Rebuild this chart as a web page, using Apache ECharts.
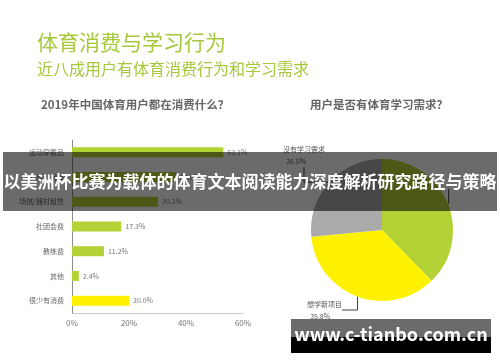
<!DOCTYPE html>
<html>
<head>
<meta charset="utf-8">
<script src="https://cdn.jsdelivr.net/npm/echarts@6/dist/echarts.min.js"></script>
<style>
html,body{margin:0;padding:0;background:#fff;}
#main{width:500px;height:362px;}
</style>
</head>
<body>
<div id="main"></div>
<script>
// 消费类别与占比
var categories = ['运动穿戴品', '运动用具', '场馆/器材租赁', '社团会费', '教练费', '其他', '很少有消费'];
var consumeValues = [53.1, 36.6, 30.2, 17.3, 11.2, 2.4, 20.0];
var xTicks = ['0%', '20%', '40%', '60%'];

// 学习需求
var needNames = ['想提高现有水平', '想学新项目', '没有学习需求'];
var needValues = [37.7, 35.8, 26.5];

var FONT = '"Noto Sans CJK SC", "Noto Sans", sans-serif';
var GREEN = '#b2d235';
var YELLOW = '#fff200';

// 饼图标签位置
var pieLabelPos = [
    {x: 452, y: 165, align: 'left'},
    {x: 307, y: 298, align: 'left'},
    {x: 283, y: 143, align: 'left'}
];

var chart = echarts.init(document.getElementById('main'));
var option = {
    backgroundColor: '#fff',
    textStyle: {fontFamily: FONT},
    grid: {left: 72, top: 140, width: 171, height: 173},
    xAxis: {
        type: 'value',
        min: 0,
        max: 60,
        interval: 20,
        axisLine: {show: true, lineStyle: {color: '#c8c8c8'}},
        axisTick: {show: false},
        splitLine: {show: false},
        axisLabel: {
            color: '#777', fontSize: 8, margin: 6,
            formatter: function (v) { return xTicks[v / 20]; }
        }
    },
    yAxis: {
        type: 'category',
        data: categories,
        inverse: true,
        axisLine: {show: true, lineStyle: {color: '#8c8c8c'}},
        axisTick: {show: false},
        axisLabel: {color: '#666', fontSize: 7, margin: 8}
    },
    series: [
        {
            type: 'bar',
            barWidth: 10,
            data: consumeValues.map(function (v, i) {
                return {value: v, itemStyle: {color: i === consumeValues.length - 1 ? YELLOW : GREEN}};
            }),
            label: {
                show: true, position: 'right', distance: 4,
                color: '#777', fontSize: 7,
                formatter: function (p) { return p.value.toFixed(1) + '%'; }
            }
        },
        {
            type: 'pie',
            center: [382, 230],
            radius: 71,
            startAngle: 90,
            clockwise: true,
            data: needNames.map(function (n, i) { return {name: n, value: needValues[i]}; }),
            color: [GREEN, YELLOW, '#aaaaaa'],
            label: {
                show: true,
                color: '#595959', fontSize: 7, lineHeight: 12,
                formatter: function (p) { return p.name + '\n  ' + p.value.toFixed(1) + '%'; }
            },
            labelLine: {show: true, lineStyle: {color: '#404040', width: 1}},
            labelLayout: function (p) {
                var pos = pieLabelPos[p.dataIndex];
                return {x: pos.x, y: pos.y, align: pos.align, verticalAlign: 'top'};
            }
        }
    ],
    graphic: [
        {type: 'text', left: 37, top: 32, style: {text: '体育消费与学习行为', fill: '#a6c93c', font: '21px ' + FONT}},
        {type: 'text', left: 37, top: 61, style: {text: '近八成用户有体育消费行为和学习需求', fill: '#a6c93c', font: '16px ' + FONT}},
        {type: 'text', left: 41, top: 99, style: {text: '2019年中国体育用户都在消费什么？', fill: '#666', font: 'bold 11.5px ' + FONT}},
        {type: 'text', left: 310, top: 99, style: {text: '用户是否有体育学习需求？', fill: '#666', font: 'bold 11.5px ' + FONT}},
        // 横幅
        {type: 'rect', z: 100, shape: {x: 3, y: 152, width: 494, height: 59}, style: {fill: 'rgba(0,0,0,0.58)'}},
        {type: 'text', z: 101, x: 250, y: 182, style: {
            text: '以美洲杯比赛为载体的体育文本阅读能力深度解析研究路径与策略',
            fill: '#fff', font: 'bold 17px ' + FONT, align: 'center', verticalAlign: 'middle'
        }},
        // 水印
        {type: 'rect', z: 100, shape: {x: 291, y: 319, width: 200, height: 18}, style: {fill: '#6b6b6b'}},
        {type: 'rect', z: 100, shape: {x: 291, y: 337, width: 200, height: 16}, style: {fill: '#000'}},
        {type: 'text', z: 101, x: 391, y: 334, style: {
            text: 'www.c-tianbo.com.cn', fill: '#fff', font: 'bold 18px ' + FONT,
            align: 'center', verticalAlign: 'middle'
        }}
    ]
};
chart.setOption(option);
</script>
</body>
</html>
